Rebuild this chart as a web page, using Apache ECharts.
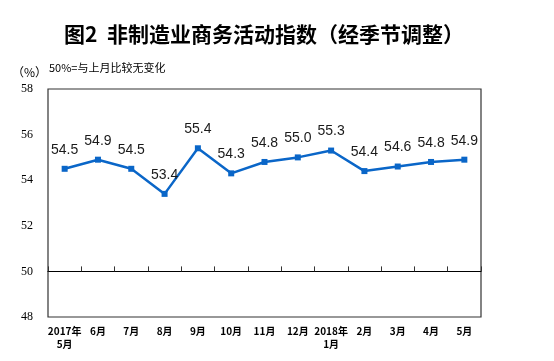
<!DOCTYPE html>
<html><head><meta charset="utf-8">
<script src="https://cdn.jsdelivr.net/npm/echarts@6/dist/echarts.min.js"></script>
<style>html,body{margin:0;padding:0;background:#fff}#c{width:554px;height:361px}</style>
</head><body><div id="c"></div>
<script>
const categories = ['2017年\n5月','6月','7月','8月','9月','10月','11月','12月','2018年\n1月','2月','3月','4月','5月'];
const values = [54.5,54.9,54.5,53.4,55.4,54.3,54.8,55.0,55.3,54.4,54.6,54.8,54.9];
const yMin = 48, yMax = 58, yStep = 2, baseLine = 50;
const chart = echarts.init(document.getElementById('c'));
const gTop = 89, gBottom = 44;
const gHeight = 361 - gTop - gBottom;
chart.setOption({
  animation: false,
  title: {
    text: '图2  非制造业商务活动指数（经季节调整）',
    left: 259, top: 19, textAlign: 'center',
    textStyle: {fontFamily: 'Noto Sans CJK SC', fontSize: 21, fontWeight: 'bold', color: '#000'}
  },
  graphic: [
    {type: 'text', left: 12, top: 66, style: {text: '（%）', font: '12px "Noto Sans CJK SC"', fill: '#000'}},
    {type: 'text', left: 49, top: 62, style: {text: '50%=与上月比较无变化', font: '11px "Noto Sans CJK SC"', fill: '#000'}}
  ],
  grid: {left: 48, right: 73, top: gTop, bottom: gBottom, show: true, borderColor: '#333', borderWidth: 1.2, backgroundColor: 'transparent'},
  xAxis: [{
    type: 'category', data: categories, boundaryGap: true,
    axisLine: {show: false}, axisTick: {show: false},
    axisLabel: {interval: 0, margin: 8, fontFamily: 'Noto Sans CJK SC', fontSize: 10, fontWeight: 'bold', color: '#000', lineHeight: 13, verticalAlign: 'top'}
  }, {
    type: 'category', data: categories, boundaryGap: true, position: 'bottom',
    offset: -gHeight * (baseLine - yMin) / (yMax - yMin),
    axisLine: {show: true, lineStyle: {color: '#000', width: 1.2}},
    axisTick: {show: true, inside: true, length: 5, interval: 0, lineStyle: {color: '#333'}},
    axisLabel: {show: false}
  }],
  yAxis: {
    type: 'value', min: yMin, max: yMax, interval: yStep,
    splitLine: {show: false}, axisLine: {show: false}, axisTick: {show: false},
    axisLabel: {margin: 15, fontFamily: 'Liberation Serif', fontSize: 12, color: '#000'}
  },
  series: [{
    type: 'line', data: values, xAxisIndex: 0,
    symbol: 'rect', symbolSize: 6,
    lineStyle: {color: '#0a66c8', width: 2.5},
    itemStyle: {color: '#0a66c8'},
    label: {show: true, position: 'top', distance: 9, formatter: p => p.value.toFixed(1),
      fontFamily: 'Liberation Sans', fontSize: 14, color: '#1a1a1a'}
  }]
});
</script></body></html>
